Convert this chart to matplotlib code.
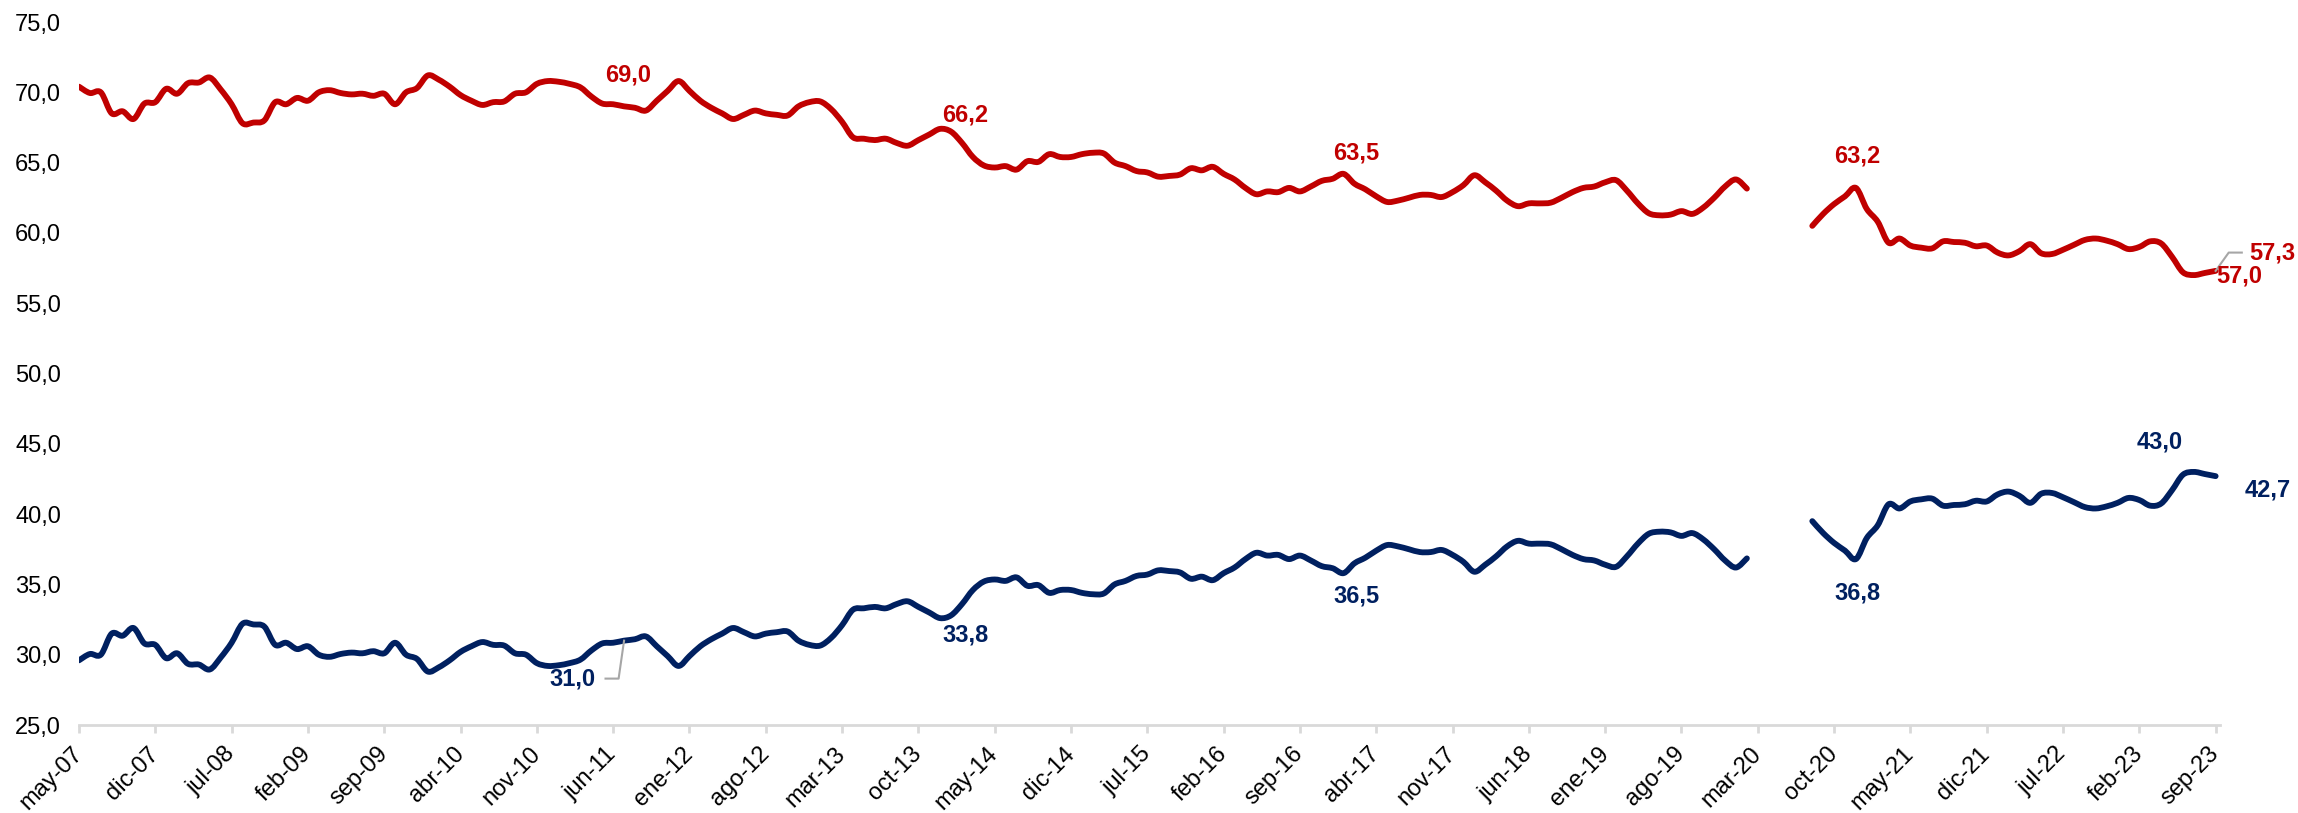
import numpy as np
import matplotlib.pyplot as plt
from matplotlib.path import Path
from matplotlib.patches import PathPatch

plt.rcParams['font.family'] = ['Liberation Sans', 'DejaVu Sans']

# ---------------------------
# data: monthly, may-07 .. sep-23 (None = no data in 2020)
# ---------------------------

formal = [29.6, 30.05, 30.0, 31.5, 31.35, 31.9, 30.8, 30.7, 29.75, 30.1,
          29.35, 29.3, 28.95, 29.8, 30.85, 32.2, 32.15, 32.0, 30.7, 30.85,
          30.4, 30.6, 30.0, 29.85, 30.05, 30.15, 30.1, 30.25, 30.1, 30.85,
          30.0, 29.7, 28.8, 29.1, 29.6, 30.2, 30.6, 30.9, 30.7, 30.65,
          30.1, 30.0, 29.4, 29.2, 29.25, 29.4, 29.65, 30.3, 30.8, 30.85,
          31.0, 31.1, 31.3, 30.6, 29.9, 29.2, 29.9, 30.6, 31.1, 31.5,
          31.9, 31.6, 31.3, 31.5, 31.6, 31.65, 31.0, 30.7, 30.65, 31.2,
          32.1, 33.2, 33.3, 33.4, 33.3, 33.6, 33.8, 33.4, 33.0, 32.6,
          32.8, 33.6, 34.6, 35.2, 35.35, 35.25, 35.5, 34.9, 34.95, 34.4,
          34.6, 34.6, 34.4, 34.3, 34.35, 35.0, 35.25, 35.6, 35.7, 36.0,
          35.95, 35.85, 35.4, 35.55, 35.3, 35.8, 36.2, 36.8, 37.25, 37.05,
          37.1, 36.8, 37.05, 36.7, 36.3, 36.15, 35.8, 36.5, 36.9, 37.4,
          37.8, 37.7, 37.5, 37.3, 37.3, 37.45, 37.1, 36.6, 35.9, 36.4,
          37.0, 37.7, 38.1, 37.9, 37.9, 37.85, 37.5, 37.1, 36.8, 36.7,
          36.4, 36.25, 37.0, 37.9, 38.6, 38.75, 38.7, 38.45, 38.65, 38.2,
          37.5, 36.7, 36.2, 36.85, None, None, None, None, None, 39.5,
          38.65, 37.95, 37.4, 36.8, 38.3, 39.2, 40.7, 40.4, 40.9, 41.05,
          41.1, 40.6, 40.65, 40.7, 40.95, 40.9, 41.4, 41.6, 41.3, 40.8,
          41.45, 41.5, 41.2, 40.85, 40.5, 40.4, 40.55, 40.8, 41.15, 41.0,
          40.6, 40.75, 41.7, 42.8, 43.0, 42.85, 42.7]

informal = [70.4, 69.95, 70.0, 68.5, 68.65, 68.1, 69.2, 69.3, 70.25, 69.9,
            70.65, 70.7, 71.05, 70.2, 69.15, 67.8, 67.85, 68.0, 69.3, 69.15,
            69.6, 69.4, 70.0, 70.15, 69.95, 69.85, 69.9, 69.75, 69.9, 69.15,
            70.0, 70.3, 71.2, 70.9, 70.4, 69.8, 69.4, 69.1, 69.3, 69.35,
            69.9, 70.0, 70.6, 70.8, 70.75, 70.6, 70.35, 69.7, 69.2, 69.15,
            69.0, 68.9, 68.7, 69.4, 70.1, 70.8, 70.1, 69.4, 68.9, 68.5,
            68.1, 68.4, 68.7, 68.5, 68.4, 68.35, 69.0, 69.3, 69.35, 68.8,
            67.9, 66.8, 66.7, 66.6, 66.7, 66.4, 66.2, 66.6, 67.0, 67.4,
            67.2, 66.4, 65.4, 64.8, 64.65, 64.75, 64.5, 65.1, 65.05, 65.6,
            65.4, 65.4, 65.6, 65.7, 65.65, 65.0, 64.75, 64.4, 64.3, 64.0,
            64.05, 64.15, 64.6, 64.45, 64.7, 64.2, 63.8, 63.2, 62.75, 62.95,
            62.9, 63.2, 62.95, 63.3, 63.7, 63.85, 64.2, 63.5, 63.1, 62.6,
            62.2, 62.3, 62.5, 62.7, 62.7, 62.55, 62.9, 63.4, 64.1, 63.6,
            63.0, 62.3, 61.9, 62.1, 62.1, 62.15, 62.5, 62.9, 63.2, 63.3,
            63.6, 63.75, 63.0, 62.1, 61.4, 61.25, 61.3, 61.55, 61.35, 61.8,
            62.5, 63.3, 63.8, 63.15, None, None, None, None, None, 60.5,
            61.35, 62.05, 62.6, 63.2, 61.7, 60.8, 59.3, 59.6, 59.1, 58.95,
            58.9, 59.4, 59.35, 59.3, 59.05, 59.1, 58.6, 58.4, 58.7, 59.2,
            58.55, 58.5, 58.8, 59.15, 59.5, 59.6, 59.45, 59.2, 58.85, 59.0,
            59.4, 59.25, 58.3, 57.2, 57.0, 57.15, 57.3]

tick_labels = ['may-07', 'dic-07', 'jul-08', 'feb-09', 'sep-09', 'abr-10',
               'nov-10', 'jun-11', 'ene-12', 'ago-12', 'mar-13', 'oct-13',
               'may-14', 'dic-14', 'jul-15', 'feb-16', 'sep-16', 'abr-17',
               'nov-17', 'jun-18', 'ene-19', 'ago-19', 'mar-20', 'oct-20',
               'may-21', 'dic-21', 'jul-22', 'feb-23', 'sep-23']

# months that carry a value label
label_idx = [50, 76, 117, 163, 194, 196]

# text positions of the labels (data coords)
red_text_xy = [(50.4, 71.2), (81.3, 68.4), (117.2, 65.7), (163.1, 65.5),
               (198.2, 56.9), (201.2, 58.6)]
navy_text_xy = [(45.3, 28.3), (81.3, 31.4), (117.2, 34.2), (163.1, 34.4),
                (190.9, 45.15), (200.8, 41.7)]

RED = '#C00000'
NAVY = '#002060'
GRAY = '#D9D9D9'

# ---------------------------
# helpers
# ---------------------------

def fmt(v):
  return ('%.1f' % v).replace('.', ',')

def smooth_path(xs, ys):
  # excel-like smoothed line: bezier curve through every point,
  # broken where the series has no value
  verts, codes = [], []
  ok = ~np.isnan(ys)
  i, n = 0, len(ys)
  while i < n:
    if not ok[i]:
      i += 1
      continue
    j = i
    while j + 1 < n and ok[j + 1]:
      j += 1
    px, py = xs[i:j + 1], ys[i:j + 1]
    verts.append((px[0], py[0]))
    codes.append(Path.MOVETO)
    for k in range(len(px) - 1):
      k0 = max(k - 1, 0)
      k3 = min(k + 2, len(px) - 1)
      c1 = (px[k] + (px[k + 1] - px[k0]) / 6., py[k] + (py[k + 1] - py[k0]) / 6.)
      c2 = (px[k + 1] - (px[k3] - px[k]) / 6., py[k + 1] - (py[k3] - py[k]) / 6.)
      verts += [c1, c2, (px[k + 1], py[k + 1])]
      codes += [Path.CURVE4] * 3
    i = j + 1
  return Path(verts, codes)

# ---------------------------
# plotting
# ---------------------------

x = np.arange(len(formal), dtype=float)
f = np.array([np.nan if v is None else v for v in formal])
inf = np.array([np.nan if v is None else v for v in informal])

fig = plt.figure(figsize=(22.98, 8.13), dpi=100)
ax = fig.add_axes([79/2298, 88/813, 2141/2298, 703/813])

for ys, col in [(inf, RED), (f, NAVY)]:
  patch = PathPatch(smooth_path(x, ys), facecolor='none', edgecolor=col,
                    lw=4.2, capstyle='round', joinstyle='round')
  ax.add_patch(patch)

for i, (tx, ty) in zip(label_idx, red_text_xy):
  ax.text(tx, ty, fmt(inf[i]), color=RED, fontsize=17, fontweight='bold',
          ha='center', va='center', clip_on=False)
for i, (tx, ty) in zip(label_idx, navy_text_xy):
  ax.text(tx, ty, fmt(f[i]), color=NAVY, fontsize=17, fontweight='bold',
          ha='center', va='center', clip_on=False)

# leader lines
i = label_idx[0]
ax.plot([48.3, 49.5, x[i]], [28.3, 28.3, f[i]], color='#A6A6A6', lw=1.5,
        clip_on=False, zorder=1)
i = label_idx[-1]
ax.plot([x[i], 197.2, 198.4], [inf[i], 58.6, 58.6], color='#A6A6A6', lw=1.5,
        clip_on=False, zorder=1)

ax.set_xlim(0, 196.4)
ax.set_ylim(25, 75)
ax.set_yticks(np.arange(25, 76, 5))
ax.set_yticklabels([fmt(v) for v in np.arange(25, 76, 5)])
ax.set_xticks(np.arange(0, 197, 7))
ax.set_xticklabels(tick_labels)

for s in ['top', 'right', 'left']:
  ax.spines[s].set_visible(False)
ax.spines['bottom'].set_color(GRAY)
ax.spines['bottom'].set_linewidth(2)

ax.tick_params(axis='y', length=0, labelsize=17, pad=13)
ax.tick_params(axis='x', direction='out', length=5.5, width=2, color=GRAY,
               labelsize=17, pad=13)
plt.setp(ax.get_xticklabels(), rotation=45, ha='right', va='center',
         rotation_mode='anchor')

fig.savefig('out.png', dpi=100)
